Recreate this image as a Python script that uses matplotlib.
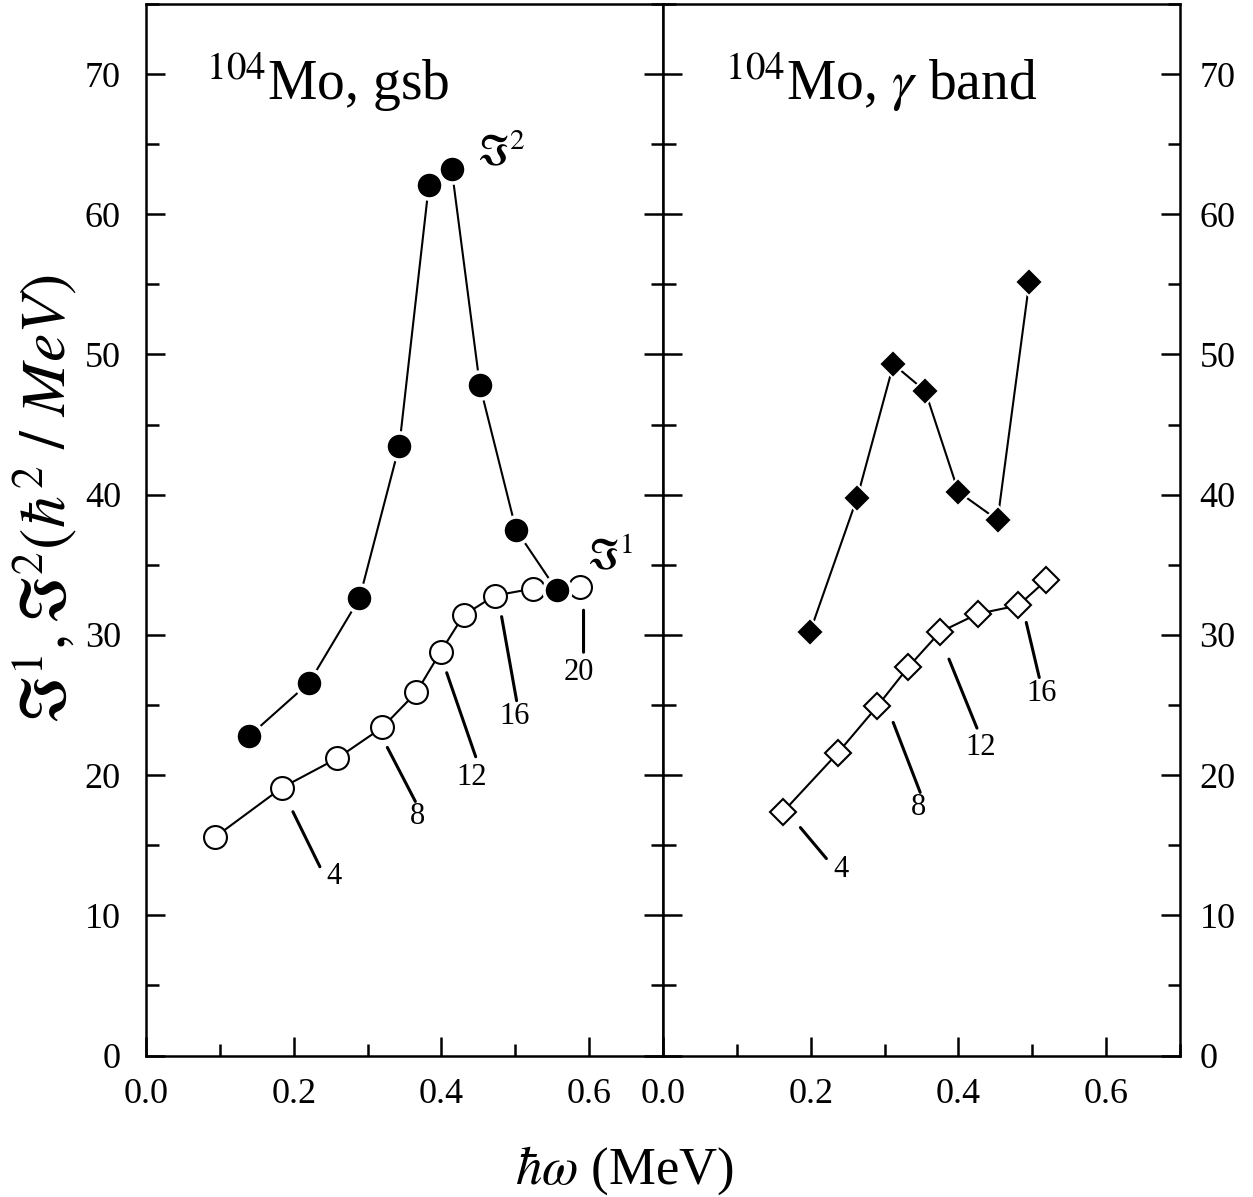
import matplotlib
matplotlib.use("Agg")
import matplotlib.pyplot as plt
from matplotlib.ticker import MultipleLocator
from matplotlib.transforms import offset_copy

plt.rcParams["font.family"] = ["Liberation Serif", "DejaVu Serif"]
plt.rcParams["mathtext.fontset"] = "stix"

# ---- data: 104Mo ground-state band ----
gsb_w_j1 = [0.094, 0.184, 0.259, 0.320, 0.366, 0.399, 0.430, 0.472, 0.524, 0.587]
gsb_j1 = [15.6, 19.1, 21.2, 23.4, 25.9, 28.8, 31.4, 32.8, 33.3, 33.4]
gsb_spin = [2, 4, 6, 8, 10, 12, 14, 16, 18, 20]

gsb_w_j2 = [0.140, 0.221, 0.289, 0.343, 0.383, 0.414, 0.452, 0.501, 0.556]
gsb_j2 = [22.8, 26.6, 32.6, 43.5, 62.1, 63.2, 47.8, 37.5, 33.2]

# ---- data: 104Mo gamma band ----
gam_w_j1 = [0.163, 0.237, 0.290, 0.332, 0.375, 0.426, 0.481, 0.519]
gam_j1 = [17.4, 21.6, 24.9, 27.7, 30.2, 31.5, 32.1, 33.9]
gam_spin = [4, 6, 8, 10, 12, 14, 16, 18]

gam_w_j2 = [0.199, 0.263, 0.312, 0.355, 0.400, 0.453, 0.496]
gam_j2 = [30.2, 39.8, 49.3, 47.4, 40.2, 38.2, 55.2]

labelled_gsb = [4, 8, 12, 16, 20]
labelled_gam = [4, 8, 12, 16]

x_ticks = [0.0, 0.2, 0.4, 0.6]
y_ticks = [0, 10, 20, 30, 40, 50, 60, 70]

W, H = 1253, 1197
fig = plt.figure(figsize=(W / 100, H / 100), dpi=100)

bottom = (H - 1055.5) / H
top = (H - 4) / H
ax1 = fig.add_axes([146 / W, bottom, (663 - 146) / W, top - bottom])
ax2 = fig.add_axes([663 / W, bottom, (1180 - 663) / W, top - bottom])

for ax in (ax1, ax2):
    ax.set_xlim(0, 0.7)
    ax.set_ylim(0, 75)
    ax.set_xticks(x_ticks)
    ax.set_xticklabels([f"{t:.1f}" for t in x_ticks])
    ax.set_yticks(y_ticks)
    ax.xaxis.set_minor_locator(MultipleLocator(0.1))
    ax.yaxis.set_minor_locator(MultipleLocator(5))
    for s in ax.spines.values():
        s.set_linewidth(1.8)
    ax.tick_params(axis="both", which="both", direction="in", width=1.8,
                   labelsize=26, top=False)
    ax.tick_params(axis="both", which="major", length=14)
    ax.tick_params(axis="both", which="minor", length=9)
    ax.tick_params(axis="x", pad=16)

ax1.tick_params(axis="y", which="both", left=True, right=True,
                labelleft=True, labelright=False, pad=18)
ax2.tick_params(axis="y", which="both", left=True, right=True,
                labelleft=False, labelright=True, pad=14)

line_kw = dict(color="black", lw=1.5)

# gsb: J1 open circles, J2 filled circles with white halo
ax1.plot(gsb_w_j1, gsb_j1, marker="o", ms=16.5, mfc="white", mec="black",
         mew=1.5, zorder=3, **line_kw)
ax1.plot(gsb_w_j2, gsb_j2, marker="o", ms=19.5, mfc="black", mec="white",
         mew=2.6, zorder=4, **line_kw)

# gamma band: J1 open diamonds, J2 filled diamonds
ax2.plot(gam_w_j1, gam_j1, marker="D", ms=13.5, mfc="white", mec="black",
         mew=1.5, zorder=3, **line_kw)
ax2.plot(gam_w_j2, gam_j2, marker="D", ms=14.5, mfc="black", mec="white",
         mew=1.5, zorder=4, **line_kw)


def spin_leader(ax, x, y, start, end, text_off, label):
    a = offset_copy(ax.transData, fig=fig, x=start[0], y=start[1], units="dots")
    b = offset_copy(ax.transData, fig=fig, x=end[0], y=end[1], units="dots")
    ax.annotate("", xy=(x, y), xycoords=a, xytext=(x, y), textcoords=b,
                arrowprops=dict(arrowstyle="-", lw=2.2, color="black",
                                shrinkA=0, shrinkB=0))
    ax.annotate(str(label), xy=(x, y), xytext=text_off,
                textcoords="offset pixels", ha="center", va="center",
                fontsize=22)


gsb_offsets = {
    4: ((11, -24), (38, -79), (52, -89)),
    8: ((5, -20), (33, -74), (35, -89)),
    12: ((6, -21), (35, -105), (31, -126)),
    16: ((7, -21), (22, -105), (20, -121)),
    20: ((4, -23), (4, -65), (-1, -85)),
}
for s in labelled_gsb:
    i = gsb_spin.index(s)
    st, en, tx = gsb_offsets[s]
    spin_leader(ax1, gsb_w_j1[i], gsb_j1[i], st, en, tx, s)

gam_offsets = {
    4: ((17, -16), (43, -47), (58, -58)),
    8: ((16, -16), (43, -86), (41, -101)),
    12: ((9, -27), (37, -96), (41, -115)),
    16: ((8, -17), (21, -72), (23, -88)),
}
for s in labelled_gam:
    i = gam_spin.index(s)
    st, en, tx = gam_offsets[s]
    spin_leader(ax2, gam_w_j1[i], gam_j1[i], st, en, tx, s)

# panel titles and curve tags
ax1.text(0.116, 0.909, r"$^{104}$Mo, gsb", transform=ax1.transAxes,
         fontsize=40, ha="left", va="baseline")
ax2.text(0.12, 0.909, r"$^{104}$Mo, $\gamma$ band", transform=ax2.transAxes,
         fontsize=40, ha="left", va="baseline")
ax1.text(0.641, 0.847, r"$\Im^{2}$", transform=ax1.transAxes,
         fontsize=30, ha="left", va="baseline")
ax1.text(0.853, 0.463, r"$\Im^{1}$", transform=ax1.transAxes,
         fontsize=30, ha="left", va="baseline")

# axis titles
fig.text(45 / W, 1 - 499 / H, r"$\Im^{1}, \Im^{2}(\hbar^{2}\ /\ MeV)$",
         rotation=90, ha="center", va="center", fontsize=46)
fig.text(624 / W, 1 - 1184 / H, r"$\hbar\omega$ (MeV)", ha="center",
         va="baseline", fontsize=38)

fig.savefig("out.png", dpi=100)
